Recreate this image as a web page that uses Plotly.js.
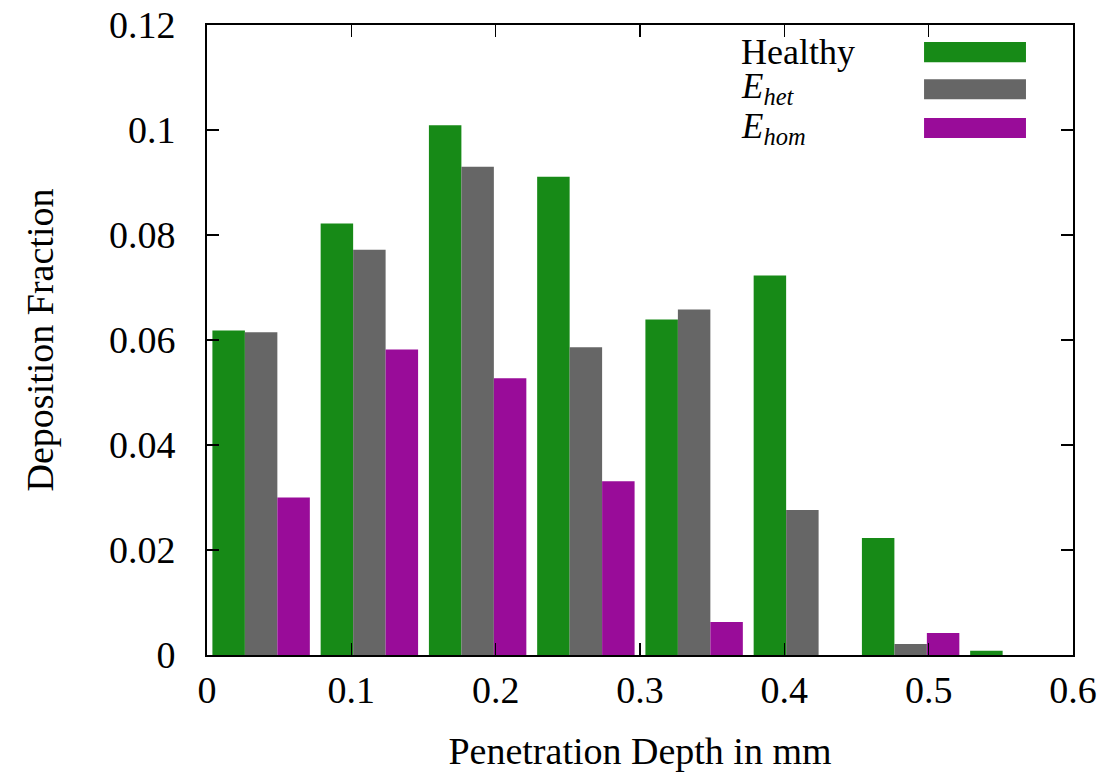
<!DOCTYPE html>
<html>
<head>
<meta charset="utf-8">
<script src="https://cdn.plot.ly/plotly-3.0.1.min.js"></script>
<style>html,body{margin:0;padding:0;background:#fff;}#chart{width:1106px;height:773px;}</style>
</head>
<body>
<div id="chart"></div>
<script>
// Bin centres (Penetration Depth in mm)
const depth = [0.0375, 0.1125, 0.1875, 0.2625, 0.3375, 0.4125, 0.4875, 0.5625];
// Deposition fractions
const healthy = [0.0618, 0.0822, 0.1009, 0.0911, 0.0639, 0.0723, 0.0223, 0.0008];
const eHet    = [0.0615, 0.0772, 0.0930, 0.0586, 0.0658, 0.0276, 0.0021, 0.0];
const eHom    = [0.0300, 0.0582, 0.0527, 0.0331, 0.0063, 0.0, 0.0042, 0.0];
const seriesNames = ['Healthy', '<i>E</i><sub><i>het</i></sub>', '<i>E</i><sub><i>hom</i></sub>'];
const seriesColors = ['#178a17', '#666666', '#990c99'];

const FONT = 'Liberation Serif, Times New Roman, serif';
const values = [healthy, eHet, eHom];
const traces = values.map((v, i) => ({
  type: 'bar', x: depth, y: v, name: seriesNames[i],
  marker: {color: seriesColors[i], line: {width: 0}},
  showlegend: false, hoverinfo: 'x+y'
}));

// Legend drawn as text + swatches (text on the left, swatch on the right, as in the reference)
const legendRowsY = [0.957, 0.898, 0.8365];
const legendTextY = [0.957, 0.899, 0.835];
const legendTextSize = [36, 35, 35];
const annotations = seriesNames.map((n, i) => ({
  xref: 'paper', yref: 'paper', x: 0.614, y: legendTextY[i],
  xanchor: 'left', yanchor: 'middle', text: n, showarrow: false,
  font: {family: FONT, size: legendTextSize[i], color: '#000'}
}));
const shapes = seriesNames.map((n, i) => ({
  type: 'rect', xref: 'paper', yref: 'paper',
  x0: 0.828, x1: 0.9457, y0: legendRowsY[i] - 0.016, y1: legendRowsY[i] + 0.016,
  fillcolor: seriesColors[i], line: {width: 0}
}));

const layout = {
  width: 1106, height: 773,
  margin: {l: 207, r: 33, t: 25, b: 118, pad: 0},
  paper_bgcolor: '#fff', plot_bgcolor: '#fff',
  barmode: 'group', bargap: 0.1, bargroupgap: 0,
  font: {family: FONT, size: 37, color: '#000'},
  xaxis: {
    range: [0, 0.6], dtick: 0.1, tick0: 0,
    showgrid: false, zeroline: false,
    showline: true, linecolor: '#000', linewidth: 2, mirror: 'allticks',
    ticks: 'inside', ticklen: 12, tickwidth: 1.5, tickcolor: '#000',
    ticklabelstandoff: 0,
    tickfont: {family: FONT, size: 38, color: '#000'},
    title: {text: 'Penetration Depth in mm', font: {family: FONT, size: 38, color: '#000'}, standoff: 28}
  },
  yaxis: {
    range: [0, 0.12], dtick: 0.02, tick0: 0,
    showgrid: false, zeroline: false,
    showline: true, linecolor: '#000', linewidth: 2, mirror: 'allticks',
    ticks: 'inside', ticklen: 12, tickwidth: 1.5, tickcolor: '#000',
    ticklabelstandoff: 22,
    tickfont: {family: FONT, size: 38, color: '#000'},
    title: {text: 'Deposition Fraction', font: {family: FONT, size: 38, color: '#000'}, standoff: 44}
  },
  annotations: annotations,
  shapes: shapes
};

Plotly.newPlot('chart', traces, layout, {displayModeBar: false, staticPlot: true});
</script>
</body>
</html>
